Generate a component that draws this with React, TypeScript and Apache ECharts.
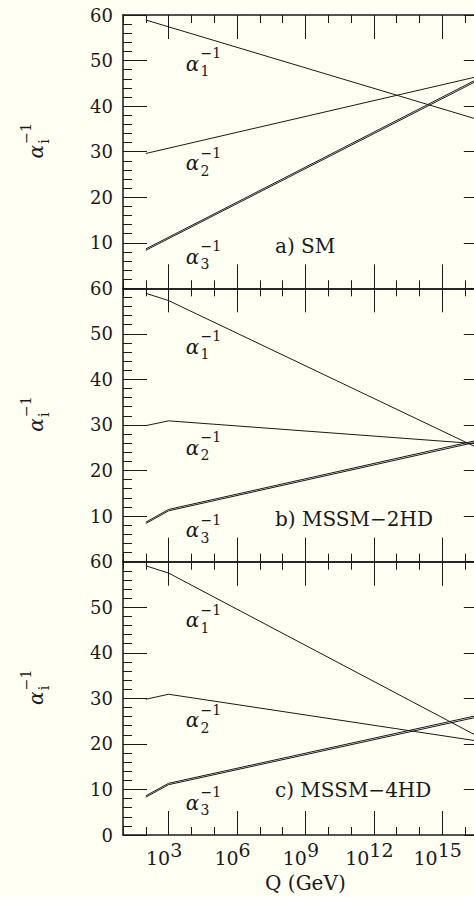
import React, { useEffect, useRef } from 'react';
import * as echarts from 'echarts';

// log10(Q / GeV) break points
const logQ_SM = [2, 17];
const logQ_MSSM = [2, 3, 17];

// a) SM
const sm_alpha1 = [58.9, 36.4];
const sm_alpha2 = [29.6, 47.0];
const sm_alpha3_lo = [8.35, 46.75];
const sm_alpha3_hi = [8.65, 47.1];

// b) MSSM-2HD
const hd2_alpha1 = [58.9, 57.3, 23.9];
const hd2_alpha2 = [29.85, 30.9, 25.7];
const hd2_alpha3_lo = [8.35, 11.15, 26.8];
const hd2_alpha3_hi = [8.65, 11.45, 27.15];

// c) MSSM-4HD
const hd4_alpha1 = [59.1, 57.5, 20.5];
const hd4_alpha2 = [29.8, 30.9, 20.3];
const hd4_alpha3_lo = [8.3, 11.05, 26.4];
const hd4_alpha3_hi = [8.6, 11.35, 26.75];

const xMajorExps = [3, 6, 9, 12, 15];
const panelNames = ['a) SM', 'b) MSSM\u22122HD', 'c) MSSM\u22124HD'];
const curveSubs = ['1', '2', '3'];
const xAxisTitle = 'Q (GeV)';

const panels = [
  { x: logQ_SM, curves: [sm_alpha1, sm_alpha2, sm_alpha3_lo, sm_alpha3_hi] },
  { x: logQ_MSSM, curves: [hd2_alpha1, hd2_alpha2, hd2_alpha3_lo, hd2_alpha3_hi] },
  { x: logQ_MSSM, curves: [hd4_alpha1, hd4_alpha2, hd4_alpha3_lo, hd4_alpha3_hi] },
];

const BG = '#fffff3';
const INK = '#1a1a1a';
const FONT = '"DejaVu Serif", serif';
const GRID_LEFT = 123;
const GRID_W = 364.8;
const GRID_H = 273.3;
const GRID_TOPS = [15, 288.3, 561.7];
const CHART_W = 500;

// label placement (pixels) for annotations
const curveLabelY = [
  [63.5, 163.3, 256.7],
  [346.7, 447.5, 530],
  [620, 720, 802.5],
];
const panelNameY = [245.8, 518.5, 790];

function alphaLabel(x: number, y: number, sub: string, size: number, rotation = 0) {
  const small = Math.round(size * 0.7);
  return {
    type: 'group',
    x,
    y,
    rotation,
    silent: true,
    children: [
      {
        type: 'text',
        x: 0,
        y: 0,
        style: { text: '\u03b1', font: `italic ${size}px ${FONT}`, fill: INK, align: 'center', verticalAlign: 'middle' },
      },
      {
        type: 'text',
        x: size * 0.4,
        y: size * 0.38,
        style: { text: sub, font: `${small}px ${FONT}`, fill: INK, align: 'left', verticalAlign: 'middle' },
      },
      {
        type: 'text',
        x: size * 0.4,
        y: -size * 0.52,
        style: { text: '\u22121', font: `${small}px ${FONT}`, fill: INK, align: 'left', verticalAlign: 'middle' },
      },
    ],
  };
}

function App() {
  const ref = useRef<HTMLDivElement>(null);

  useEffect(() => {
    if (!ref.current) return;
    const chart = echarts.init(ref.current, undefined, { renderer: 'svg' });
    const lineStyle = { color: INK, width: 1 };
    const axisLineStyle = { color: INK, width: 1.5 };

    const grids: any[] = [];
    const xAxes: any[] = [];
    const yAxes: any[] = [];
    const series: any[] = [];
    const graphics: any[] = [];

    panels.forEach((p, i) => {
      grids.push({
        left: GRID_LEFT,
        top: GRID_TOPS[i],
        width: GRID_W,
        height: GRID_H,
        containLabel: false,
        outerBoundsMode: 'none',
      });
      const isLast = i === panels.length - 1;
      (['bottom', 'top'] as const).forEach((pos) => {
        // decade ticks + frame line
        xAxes.push({
          type: 'value',
          gridIndex: i,
          position: pos,
          min: 1,
          max: 17,
          interval: 1,
          axisLine: { show: true, onZero: false, lineStyle: axisLineStyle },
          axisTick: { show: true, inside: true, length: 8, lineStyle },
          axisLabel: { show: false },
          splitLine: { show: false },
        });
        // long ticks every 3 decades (+ labels on the bottom panel)
        const labels = isLast && pos === 'bottom';
        xAxes.push({
          type: 'value',
          gridIndex: i,
          position: pos,
          min: 1,
          max: 17,
          interval: 1,
          axisLine: { show: false, onZero: false },
          axisTick: { show: true, inside: true, length: 24, customValues: xMajorExps, lineStyle },
          axisLabel: labels
            ? {
                show: true,
                customValues: xMajorExps,
                margin: 5,
                formatter: (v: number) => `{b|10}{s|${v}}`,
                rich: {
                  b: { fontSize: 19, fontFamily: FONT, color: INK, padding: [8, 0, 0, 0], verticalAlign: 'bottom' },
                  s: { fontSize: 19, fontFamily: FONT, color: INK, padding: [0, 9, 0, 0], verticalAlign: 'top' },
                },
              }
            : { show: false },
          splitLine: { show: false },
          name: labels ? xAxisTitle : '',
          nameLocation: 'middle',
          nameGap: 38,
          nameTextStyle: { fontSize: 20, fontFamily: FONT, color: INK },
        });
      });
      (['left', 'right'] as const).forEach((pos) => {
        yAxes.push({
          type: 'value',
          gridIndex: i,
          position: pos,
          min: 0,
          max: 60,
          interval: 10,
          axisLine: { show: true, onZero: false, lineStyle: axisLineStyle },
          axisTick: { show: true, inside: true, length: 24, lineStyle },
          minorTick: { show: true, splitNumber: 5, length: 9, lineStyle },
          axisLabel:
            pos === 'left'
              ? {
                  show: true,
                  margin: 10,
                  fontSize: 18,
                  fontFamily: FONT,
                  color: INK,
                  formatter: (v: number) => (!isLast && v === 0 ? '' : String(v)),
                }
              : { show: false },
          splitLine: { show: false },
        });
      });

      p.curves.forEach((vals) => {
        series.push({
          type: 'line',
          xAxisIndex: i * 4,
          yAxisIndex: i * 2,
          data: p.x.map((x, j) => [x, vals[j]]),
          showSymbol: false,
          symbol: 'none',
          silent: true,
          lineStyle,
          z: 3,
        });
      });

      const centerY = GRID_TOPS[i] + GRID_H / 2;
      graphics.push(alphaLabel(36, centerY, 'i', 20, Math.PI / 2));
      curveSubs.forEach((s, k) => {
        graphics.push(alphaLabel(192.5, curveLabelY[i][k], s, 20));
      });
      graphics.push({
        type: 'text',
        x: 275,
        y: panelNameY[i],
        silent: true,
        style: { text: panelNames[i], font: `20px ${FONT}`, fill: INK, align: 'left', verticalAlign: 'middle' },
      });
    });

    chart.setOption({
      animation: false,
      backgroundColor: BG,
      grid: grids,
      xAxis: xAxes,
      yAxis: yAxes,
      series,
      graphic: graphics,
    });
    return () => chart.dispose();
  }, []);

  return (
    <div
      style={{
        position: 'fixed',
        left: 0,
        top: 0,
        width: 474,
        height: 897,
        overflow: 'hidden',
        background: BG,
      }}
    >
      <div ref={ref} style={{ width: CHART_W, height: 897 }} />
    </div>
  );
}

export default App;
